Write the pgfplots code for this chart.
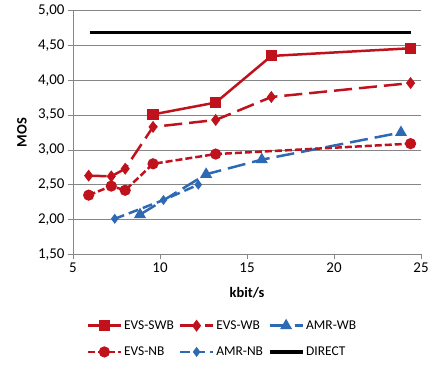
\documentclass[border=0pt]{standalone}
\usepackage{pgfplots}
\pgfplotsset{compat=1.18}
\usepackage{fontspec}
\setmainfont{Carlito}
\definecolor{cred}{RGB}{192,18,28}
\definecolor{cblue}{RGB}{46,106,180}
\definecolor{cgrid}{RGB}{134,134,134}
\newcommand{\tf}{\fontsize{15}{17}\selectfont}
\newcommand{\lf}{\fontsize{14.5}{17}\selectfont}
\newcommand{\gf}{\fontsize{13.5}{16}\selectfont}
\begin{document}
\begin{tikzpicture}
\useasboundingbox (-73bp,-115.7bp) rectangle (369bp,254.3bp);
\begin{axis}[
  at={(0,0)}, anchor=south west,
  scale only axis, width=348bp, height=243.6bp,
  xmin=5, xmax=25, ymin=1.5, ymax=5,
  xtick={5,10,15,20,25}, ytick={1.5,2,2.5,3,3.5,4,4.5,5},
  axis x line=bottom, axis y line=left,
  axis line style={cgrid, line width=0.8pt, -},
  ymajorgrids, grid style={cgrid, line width=0.6pt},
  tick style={cgrid, line width=0.6pt},
  tick align=outside, major tick length=5bp,
  x tick label style={/pgf/number format/.cd, fixed, precision=0},
  y tick label style={/pgf/number format/.cd, use comma, fixed, fixed zerofill, precision=2},
  /pgf/number format/assume math mode=true,
  tick label style={font=\tf, black},
  xlabel={\lf\bfseries kbit/s}, ylabel={\lf\bfseries MOS},
  xlabel style={at={(axis description cs:0.5,-0.156)}, anchor=center},
  ylabel style={at={(axis description cs:-0.147,0.5)}, anchor=center},
  legend columns=3,
  legend style={draw=none, at={(0.03,-0.255)}, anchor=north west, font=\gf,
    /tikz/every even column/.append style={column sep=3bp}, row sep=12bp},
  legend cell align=left,
  legend image code/.code={\draw[mark repeat=2,mark phase=2] plot coordinates {(0bp,0bp) (16.5bp,0bp) (33bp,0bp)};},
]
\addplot[cred, line width=2.5bp, mark=square*, mark size=4.3bp, mark options={solid}]
 coordinates {(9.6,3.51) (13.2,3.68) (16.4,4.35) (24.4,4.46)};
\addlegendentry{\gf EVS-SWB}
\addplot[cred, line width=2.5bp, dash pattern=on 18bp off 7bp, mark=diamond*, mark size=4bp, mark options={solid}]
 coordinates {(5.9,2.63) (7.2,2.62) (8.0,2.73) (9.6,3.33) (13.2,3.43) (16.4,3.76) (24.4,3.96)};
\addlegendentry{\gf EVS-WB}
\addplot[cblue, line width=2.5bp, dash pattern=on 18bp off 7bp, mark=triangle*, mark size=4.5bp, mark options={solid}]
 coordinates {(8.85,2.07) (12.65,2.65) (15.85,2.86) (23.85,3.25)};
\addlegendentry{\gf AMR-WB}
\addplot[cred, line width=2.5bp, dash pattern=on 7bp off 3bp, mark=*, mark size=4.3bp, mark options={solid}]
 coordinates {(5.9,2.35) (7.2,2.48) (8.0,2.42) (9.6,2.80) (13.2,2.94) (24.4,3.09)};
\addlegendentry{\gf EVS-NB}
\addplot[cblue, line width=2.5bp, dash pattern=on 10bp off 5bp, mark=diamond*, mark size=3bp, mark options={solid}]
 coordinates {(7.4,2.01) (10.2,2.28) (12.2,2.50)};
\addlegendentry{\gf AMR-NB}
\addplot[black, line width=3.2bp, mark=none]
 coordinates {(5.95,4.69) (24.4,4.69)};
\addlegendentry{\gf DIRECT}
\end{axis}
\end{tikzpicture}
\end{document}
